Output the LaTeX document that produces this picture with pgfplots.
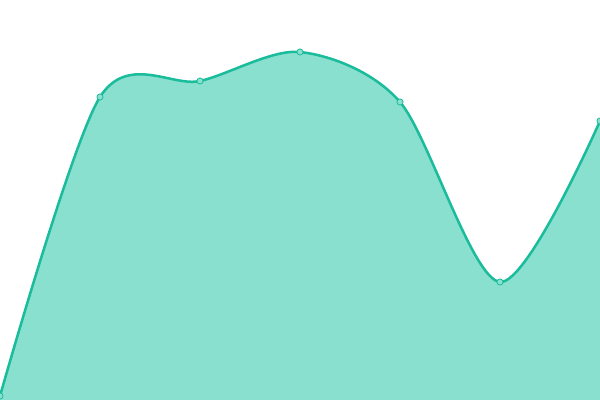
\documentclass[border=0pt]{standalone}
\usepackage{pgfplots}
\pgfplotsset{compat=1.18}
\definecolor{lineC}{HTML}{1ABC9C}
\definecolor{fillC}{HTML}{8AE0CF}
\begin{document}
\begin{tikzpicture}
\useasboundingbox (0,0) rectangle (450pt,300pt);
\clip (0,0) rectangle (450pt,300pt);
\begin{axis}[
  at={(0,0)}, anchor=south west,
  width=450pt, height=300pt, scale only axis,
  hide axis,
  xmin=0, xmax=600, ymin=0, ymax=400,
  clip=false,
]
\addplot[draw=none, fill=fillC, smooth, tension=0.5]
  coordinates {(0,4) (100,303) (200,319) (300,348) (400,298) (500,118) (600,279)} \closedcycle;
\addplot[draw=lineC, line width=1.9pt, smooth, tension=0.5,
  mark=*, mark size=2.3pt, mark options={fill=fillC, draw=lineC, line width=0.6pt}]
  coordinates {(0,4) (100,303) (200,319) (300,348) (400,298) (500,118) (600,279)};
\end{axis}
\end{tikzpicture}
\end{document}
